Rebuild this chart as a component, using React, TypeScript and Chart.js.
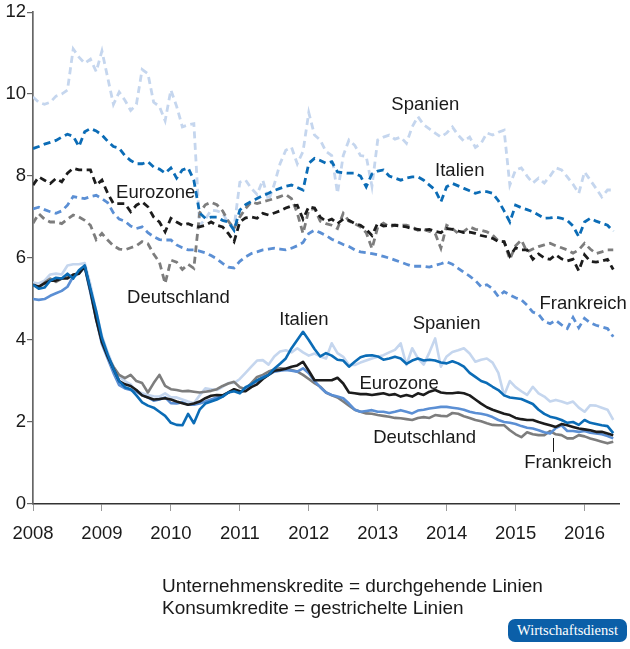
import React, { useEffect, useRef } from "react";
import { Chart, registerables } from "chart.js";

Chart.register(...registerables);

// ---- data (monthly, Jan 2008 – Jun 2016), interest rates in % ----
const START_YEAR = 2008;
const X_MIN = 2008;
const X_MAX = 2016.5;
const X_TICK_STEP = 1;
const Y_MIN = 0;
const Y_MAX = 12;
const Y_TICK_STEP = 2;

// Konsumkredite (dashed)
const spanienKonsum = [
  9.93, 9.8, 9.75, 9.8, 9.95, 10.0, 10.1, 11.1, 10.9, 10.75,
  10.85, 10.55, 11.05, 10.4, 9.75, 10.05, 9.85, 9.6, 9.75, 10.6,
  10.5, 9.8, 9.7, 9.35, 10.1, 9.7, 9.2, 9.25, 9.28, 6.8,
  6.95, 7.17, 7.15, 7.1, 6.85, 6.75, 7.85, 7.9, 7.7, 7.55,
  7.9, 7.4, 7.8, 8.3, 8.63, 8.7, 8.3, 8.6, 9.55, 9.0,
  8.88, 8.6, 8.5, 7.58, 8.5, 8.88, 8.75, 8.5, 8.48, 7.75,
  8.88, 8.95, 9.0, 8.9, 8.95, 8.8, 9.2, 9.45, 9.25, 9.15,
  9.05, 8.95, 9.05, 9.2, 9.0, 8.85, 8.95, 8.7, 8.8, 9.05,
  9.0, 9.07, 9.12, 7.78, 8.15, 8.2, 8.0, 7.83, 7.95, 7.83,
  8.0, 8.2, 8.15, 7.98, 7.8, 7.58, 8.1, 7.9, 7.7, 7.49,
  7.66, 7.66,
];
const italienKonsum = [
  8.67, 8.72, 8.78, 8.82, 8.87, 8.95, 9.02, 8.97, 8.72, 9.08,
  9.16, 9.1, 9.0, 8.85, 8.72, 8.68, 8.5, 8.38, 8.3, 8.3,
  8.35, 8.22, 8.17, 8.07, 8.2, 7.95, 8.15, 8.2, 7.9, 7.1,
  6.97, 7.0, 7.0, 6.92, 6.88, 6.68, 7.17, 7.3, 7.38, 7.45,
  7.52, 7.58, 7.65, 7.7, 7.75, 7.78, 7.72, 7.66, 8.31, 8.43,
  8.38, 8.31, 8.35, 8.1, 8.08, 8.07, 8.07, 8.0, 7.74, 8.05,
  8.12, 8.15, 8.0, 7.95, 7.9, 7.95, 7.98, 7.98, 7.9, 7.78,
  7.66, 7.37, 7.74, 7.82, 7.76, 7.7, 7.64, 7.58, 7.62, 7.62,
  7.58, 7.4, 7.15, 6.88, 7.29, 7.23, 7.18, 7.13, 7.05, 6.97,
  6.98, 7.0, 6.97, 6.92, 6.78, 6.52, 6.88, 6.97, 6.9, 6.85,
  6.8, 6.65,
];
const eurozoneKonsum = [
  7.78, 7.98, 7.9, 7.82, 7.94, 7.86, 8.07, 8.19, 8.15, 8.15,
  8.15, 7.78, 7.9, 7.58, 7.33, 7.33, 7.33, 7.13, 7.29, 7.37,
  7.25, 7.0, 6.88, 6.64, 6.97, 6.88, 6.8, 6.84, 6.78, 6.76,
  6.8, 6.88, 6.8, 6.76, 6.6, 6.4, 6.88, 6.98, 7.0, 6.97,
  7.09, 7.05, 7.1, 7.15, 7.22, 7.27, 7.29, 6.95, 7.25, 7.22,
  7.0, 6.9, 6.95, 6.84, 6.95, 6.92, 6.84, 6.8, 6.7, 6.55,
  6.85, 6.78, 6.8, 6.8, 6.78, 6.76, 6.72, 6.7, 6.68, 6.7,
  6.65, 6.62, 6.72, 6.7, 6.66, 6.62, 6.63, 6.6, 6.55, 6.52,
  6.48, 6.4, 6.4, 6.05, 6.25, 6.2, 6.2, 5.97, 6.1, 6.0,
  5.97, 6.08, 5.98, 5.93, 5.97, 5.69, 6.08, 5.92, 5.9, 5.93,
  5.97, 5.72,
];
const frankreichKonsum = [
  7.2, 7.24, 7.18, 7.13, 7.09, 7.15, 7.29, 7.5, 7.47, 7.45,
  7.5, 7.53, 7.45, 7.35, 7.1, 6.95, 6.9, 6.78, 6.72, 6.76,
  6.62, 6.52, 6.45, 6.44, 6.44, 6.32, 6.25, 6.2, 6.2, 6.17,
  6.13, 6.06, 5.98, 5.87, 5.78, 5.76, 5.92, 6.03, 6.11, 6.15,
  6.2, 6.22, 6.24, 6.22, 6.2, 6.24, 6.3, 6.38, 6.6, 6.68,
  6.62, 6.55, 6.46, 6.4, 6.33, 6.28, 6.2, 6.15, 6.13, 6.11,
  6.08, 6.04, 6.0, 5.95, 5.9, 5.85, 5.8, 5.8, 5.8, 5.78,
  5.82, 5.86, 5.91, 5.85, 5.75, 5.65, 5.56, 5.45, 5.3, 5.35,
  5.25, 5.06, 5.18, 5.1, 5.03, 4.98, 4.85, 4.68, 4.63, 4.45,
  4.4, 4.48, 4.37, 4.28, 4.55, 4.3, 4.53, 4.42, 4.36, 4.32,
  4.28, 4.08,
];
const deutschlandKonsum = [
  6.85, 7.08, 6.95, 6.88, 6.88, 6.84, 6.95, 7.05, 7.0, 6.92,
  6.8, 6.45, 6.6, 6.44, 6.3, 6.22, 6.2, 6.25, 6.3, 6.4,
  6.35, 6.1, 5.9, 5.38, 5.95, 5.9, 5.72, 5.85, 5.75, 7.1,
  7.3, 7.36, 7.3, 7.15, 6.9, 6.72, 7.0, 7.21, 7.37, 7.33,
  7.37, 7.41, 7.45, 7.5, 7.55, 7.45, 7.1, 6.6, 7.17, 7.21,
  6.9, 6.84, 6.8, 6.72, 7.09, 6.9, 6.84, 6.76, 6.62, 6.23,
  6.75, 6.85, 6.76, 6.8, 6.8, 6.8, 6.76, 6.68, 6.7, 6.65,
  6.6, 6.24, 6.8, 6.72, 6.6, 6.65, 6.76, 6.7, 6.68, 6.64,
  6.56, 6.42, 6.4, 5.97, 6.3, 6.44, 6.15, 6.22, 6.28, 6.32,
  6.36, 6.3, 6.25, 6.2, 6.12, 6.2, 6.36, 6.22, 6.11, 6.15,
  6.2, 6.2,
];

// Unternehmenskredite (solid)
const spanienUnternehmen = [
  5.4, 5.38, 5.45, 5.6, 5.62, 5.6, 5.82, 5.85, 5.85, 5.88,
  5.35, 4.7, 4.1, 3.7, 3.35, 3.1, 3.0, 2.92, 2.75, 2.7,
  2.66, 2.63, 2.62, 2.7, 2.6, 2.6, 2.55, 2.5, 2.46, 2.65,
  2.82, 2.8, 2.78, 2.86, 2.95, 2.95, 3.05, 3.2, 3.35, 3.5,
  3.51, 3.4, 3.6, 3.72, 3.75, 3.7, 3.8, 3.7, 3.62, 3.67,
  3.6, 3.55, 3.92, 3.68, 3.59, 3.39, 3.39, 3.45, 3.5, 3.55,
  3.59, 3.63, 3.7, 3.76, 3.92, 3.39, 3.8, 3.55, 3.4, 3.7,
  4.04, 3.35, 3.6, 3.71, 3.75, 3.8, 3.67, 3.47, 3.52, 3.55,
  3.45, 3.2, 2.65, 3.0, 2.85, 2.75, 2.66, 2.86, 2.7, 2.62,
  2.5, 2.54, 2.5, 2.45, 2.5, 2.35, 2.25, 2.41, 2.4, 2.35,
  2.3, 2.05,
];
const italienUnternehmen = [
  5.35, 5.25, 5.28, 5.45, 5.52, 5.5, 5.62, 5.5, 5.7, 5.82,
  5.25, 4.7, 4.05, 3.65, 3.3, 3.0, 2.85, 2.8, 2.65, 2.48,
  2.4, 2.35, 2.25, 2.15, 1.98, 1.93, 1.92, 2.2, 1.97, 2.3,
  2.45, 2.5, 2.55, 2.62, 2.72, 2.75, 2.7, 2.85, 2.92, 3.02,
  3.08, 3.15, 3.3, 3.42, 3.55, 3.8, 4.0, 4.2, 4.0, 3.78,
  3.6, 3.68, 3.62, 3.52, 3.5, 3.35, 3.47, 3.58, 3.62, 3.63,
  3.6, 3.52, 3.55, 3.59, 3.55, 3.42, 3.5, 3.55, 3.5, 3.52,
  3.5, 3.45, 3.43, 3.48, 3.43, 3.35, 3.2, 3.1, 3.0, 2.95,
  2.86, 2.78, 2.65, 2.6, 2.58, 2.56, 2.5, 2.44, 2.3, 2.2,
  2.13, 2.1, 2.05, 1.98, 2.0, 1.93, 2.05, 1.98, 1.95, 1.92,
  1.9, 1.73,
];
const eurozoneUnternehmen = [
  5.35, 5.3, 5.38, 5.45, 5.45, 5.5, 5.5, 5.6, 5.62, 5.8,
  5.2, 4.5, 3.95, 3.6, 3.3, 3.0, 2.92, 2.88, 2.78, 2.65,
  2.6, 2.55, 2.56, 2.58, 2.55, 2.5, 2.46, 2.42, 2.45, 2.5,
  2.58, 2.64, 2.66, 2.65, 2.72, 2.8, 2.75, 2.75, 2.85, 2.92,
  3.05, 3.15, 3.25, 3.27, 3.3, 3.35, 3.38, 3.47, 3.25, 3.02,
  3.02, 3.02, 3.02, 3.08, 2.94, 2.72, 2.7, 2.68, 2.68, 2.66,
  2.68, 2.7, 2.66, 2.68, 2.62, 2.66, 2.62, 2.7, 2.66, 2.74,
  2.78, 2.72, 2.7, 2.7, 2.72, 2.7, 2.65, 2.55, 2.45, 2.36,
  2.3, 2.25, 2.2, 2.17, 2.1, 2.07, 2.05, 2.05, 2.0, 1.96,
  1.92, 1.88, 1.95, 1.92, 1.88, 1.84, 1.82, 1.8, 1.76, 1.76,
  1.72, 1.68,
];
const frankreichUnternehmen = [
  5.0, 4.98, 5.0, 5.08, 5.14, 5.2, 5.3, 5.55, 5.62, 5.78,
  5.15, 4.5, 3.9, 3.55, 3.2, 2.9, 2.82, 2.78, 2.74, 2.65,
  2.6, 2.52, 2.55, 2.6, 2.46, 2.45, 2.48, 2.42, 2.42, 2.45,
  2.5, 2.55, 2.6, 2.62, 2.72, 2.78, 2.72, 2.8, 2.92, 3.0,
  3.1, 3.15, 3.23, 3.25, 3.27, 3.25, 3.23, 3.31, 3.19, 3.0,
  2.85, 2.72, 2.66, 2.62, 2.58, 2.45, 2.3, 2.25, 2.27, 2.29,
  2.25, 2.25, 2.22, 2.25, 2.29, 2.25, 2.21, 2.28, 2.3, 2.33,
  2.35, 2.37, 2.37, 2.35, 2.33, 2.3, 2.25, 2.22, 2.2, 2.17,
  2.12, 2.05, 2.0, 1.98, 1.95, 1.9, 1.86, 1.84, 1.8, 1.75,
  1.72, 1.85, 1.92, 1.78, 1.78, 1.76, 1.78, 1.74, 1.72, 1.7,
  1.66, 1.6,
];
const deutschlandUnternehmen = [
  5.35, 5.28, 5.4, 5.5, 5.42, 5.5, 5.55, 5.55, 5.65, 5.8,
  5.2, 4.55, 3.95, 3.6, 3.35, 3.15, 3.07, 3.15, 3.0, 2.95,
  2.72, 2.95, 3.15, 2.88, 2.8, 2.78, 2.75, 2.76, 2.74, 2.72,
  2.74, 2.76, 2.8, 2.88, 2.94, 2.98, 2.85, 2.8, 2.95, 3.1,
  3.15, 3.23, 3.28, 3.31, 3.3, 3.27, 3.23, 3.15, 3.05, 2.95,
  2.86, 2.72, 2.65, 2.6, 2.5, 2.4, 2.3, 2.25, 2.21, 2.2,
  2.17, 2.15, 2.13, 2.1, 2.09, 2.07, 2.05, 2.1, 2.12, 2.1,
  2.17, 2.15, 2.14, 2.22, 2.2, 2.14, 2.1, 2.05, 2.02, 1.97,
  1.93, 1.92, 1.92, 1.8, 1.7, 1.63, 1.75, 1.7, 1.68, 1.68,
  1.78, 1.7, 1.68, 1.6, 1.6, 1.68, 1.65, 1.6, 1.56, 1.52,
  1.48, 1.52,
];

// in-chart labels (anchored in data coordinates: year, percent at text baseline)
const seriesLabels = [
  { text: "Spanien", x: 2013.69, y: 9.6 },
  { text: "Italien", x: 2014.19, y: 8.0 },
  { text: "Eurozone", x: 2009.78, y: 7.46 },
  { text: "Deutschland", x: 2010.11, y: 4.9 },
  { text: "Frankreich", x: 2015.98, y: 4.76 },
  { text: "Italien", x: 2011.93, y: 4.37 },
  { text: "Spanien", x: 2014.0, y: 4.27 },
  { text: "Eurozone", x: 2013.31, y: 2.8 },
  { text: "Deutschland", x: 2013.68, y: 1.5 },
  { text: "Frankreich", x: 2015.76, y: 0.87 },
];
const pointerLine = { x: 2015.54, y1: 1.61, y2: 1.27 };

const footerLines = [
  "Unternehmenskredite = durchgehende Linien",
  "Konsumkredite = gestrichelte Linien",
];
const badgeText = "Wirtschaftsdienst";

// ---- styles ----
const FONT = '"Liberation Sans", Arial, Helvetica, sans-serif';
const C_SPANIEN = "#c5d6ee";
const C_ITALIEN = "#0b6cb6";
const C_FRANKREICH = "#5b8fd4";
const C_DEUTSCHLAND = "#7d7d7d";
const C_EUROZONE = "#1c1c1c";

const toPoints = (arr: number[]) =>
  arr.map((v, i) => ({ x: START_YEAR + i / 12, y: v }));

const labelPlugin = {
  id: "seriesLabels",
  afterDatasetsDraw(chart: any) {
    const { ctx, scales } = chart;
    const xs = scales.x;
    const ys = scales.y;
    ctx.save();
    ctx.font = `18.5px ${FONT}`;
    ctx.fillStyle = "#1a1a1a";
    ctx.textAlign = "center";
    ctx.textBaseline = "alphabetic";
    for (const l of seriesLabels) {
      ctx.fillText(l.text, xs.getPixelForValue(l.x), ys.getPixelForValue(l.y));
    }
    ctx.strokeStyle = "#1a1a1a";
    ctx.lineWidth = 1;
    ctx.beginPath();
    const px = Math.round(xs.getPixelForValue(pointerLine.x)) + 0.5;
    ctx.moveTo(px, ys.getPixelForValue(pointerLine.y1));
    ctx.lineTo(px, ys.getPixelForValue(pointerLine.y2));
    ctx.stroke();
    ctx.restore();
  },
};

export default function App() {
  const canvasRef = useRef<HTMLCanvasElement | null>(null);

  useEffect(() => {
    document.body.style.margin = "0";
    const canvas = canvasRef.current;
    if (!canvas) return;

    const dashed = (label: string, data: number[], color: string, order: number) => ({
      label,
      data: toPoints(data),
      borderColor: color,
      borderWidth: 2.8,
      borderDash: [7, 4.5],
      pointRadius: 0,
      tension: 0,
      fill: false,
      order,
    });
    const solid = (label: string, data: number[], color: string, order: number) => ({
      label,
      data: toPoints(data),
      borderColor: color,
      borderWidth: 2.6,
      pointRadius: 0,
      tension: 0,
      fill: false,
      order,
      borderJoinStyle: "round" as const,
    });

    const chart = new Chart(canvas, {
      type: "line",
      data: {
        datasets: [
          solid("Italien Unternehmen", italienUnternehmen, C_ITALIEN, 0),
          solid("Eurozone Unternehmen", eurozoneUnternehmen, C_EUROZONE, 1),
          solid("Frankreich Unternehmen", frankreichUnternehmen, C_FRANKREICH, 2),
          solid("Deutschland Unternehmen", deutschlandUnternehmen, C_DEUTSCHLAND, 3),
          solid("Spanien Unternehmen", spanienUnternehmen, C_SPANIEN, 4),
          dashed("Italien Konsum", italienKonsum, C_ITALIEN, 5),
          dashed("Eurozone Konsum", eurozoneKonsum, C_EUROZONE, 6),
          dashed("Deutschland Konsum", deutschlandKonsum, C_DEUTSCHLAND, 7),
          dashed("Frankreich Konsum", frankreichKonsum, C_FRANKREICH, 8),
          dashed("Spanien Konsum", spanienKonsum, C_SPANIEN, 9),
        ],
      },
      options: {
        responsive: false,
        animation: false,
        parsing: false as any,
        layout: { padding: { top: 12, right: 11, left: 0, bottom: 0 } },
        plugins: {
          legend: { display: false },
          tooltip: { enabled: false },
        },
        elements: { point: { radius: 0 }, line: { tension: 0 } },
        scales: {
          x: {
            type: "linear",
            min: X_MIN,
            max: X_MAX,
            afterFit: (s: any) => {
              s.height = 145;
            },
            ticks: {
              stepSize: X_TICK_STEP,
              includeBounds: false,
              autoSkip: false,
              maxRotation: 0,
              padding: 12,
              color: "#1a1a1a",
              font: { family: FONT, size: 18.5 },
              callback: (v: any) => String(v),
            },
            grid: {
              drawOnChartArea: false,
              drawTicks: true,
              tickLength: 7,
              color: "#9a9a9a",
              lineWidth: 1,
            },
            border: { display: true, color: "#333333", width: 1.5 },
          },
          y: {
            min: Y_MIN,
            max: Y_MAX,
            afterFit: (s: any) => {
              s.width = 33;
            },
            ticks: {
              stepSize: Y_TICK_STEP,
              padding: 1,
              color: "#1a1a1a",
              font: { family: FONT, size: 18.5 },
              callback: (v: any) => String(v),
            },
            grid: {
              drawOnChartArea: false,
              drawTicks: true,
              tickLength: 6,
              color: "#666666",
              lineWidth: 1.2,
            },
            border: { display: true, color: "#666666", width: 1.7 },
          },
        },
      },
      plugins: [labelPlugin],
    });

    return () => chart.destroy();
  }, []);

  return (
    <div
      style={{
        position: "absolute",
        left: 0,
        top: 0,
        width: 630,
        height: 649,
        background: "#ffffff",
        overflow: "hidden",
      }}
    >
      <canvas
        ref={canvasRef}
        width={630}
        height={649}
        style={{ position: "absolute", left: 0, top: 0, width: 630, height: 649 }}
      />
      <div
        style={{
          position: "absolute",
          left: 162,
          top: 575,
          fontFamily: FONT,
          fontSize: 19,
          lineHeight: "22px",
          color: "#1a1a1a",
          whiteSpace: "nowrap",
        }}
      >
        {footerLines.map((t) => (
          <div key={t}>{t}</div>
        ))}
      </div>
      <div
        style={{
          position: "absolute",
          left: 508,
          top: 619,
          width: 119,
          height: 23,
          background: "#0b5fa8",
          borderRadius: 7,
          color: "#ffffff",
          fontFamily: '"Liberation Serif", "DejaVu Serif", serif',
          fontSize: 14.5,
          lineHeight: "23px",
          textAlign: "center",
          whiteSpace: "nowrap",
        }}
      >
        {badgeText}
      </div>
    </div>
  );
}
